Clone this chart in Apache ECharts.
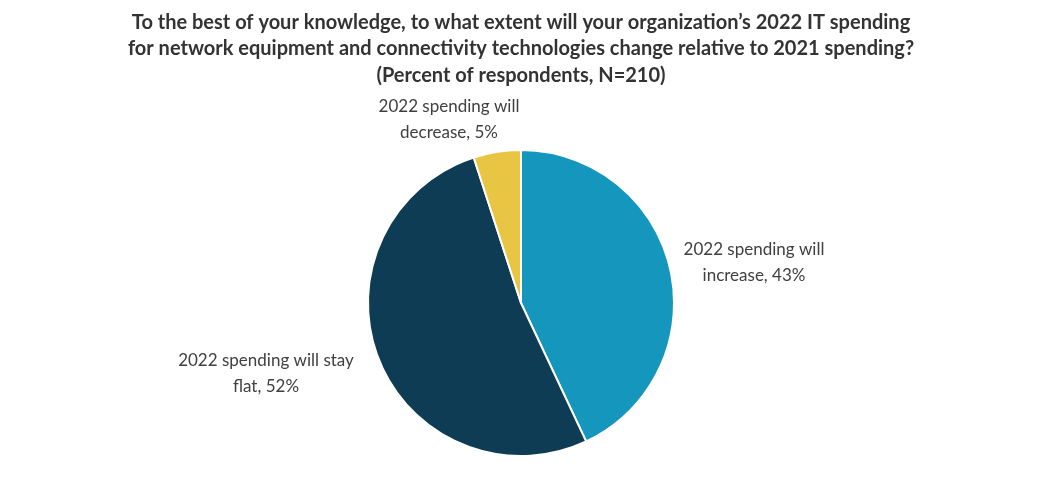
<!DOCTYPE html>
<html>
<head>
<meta charset="utf-8">
<script src="https://cdn.jsdelivr.net/npm/echarts@6/dist/echarts.min.js"></script>
<style>
  html, body { margin: 0; padding: 0; background: #fff; }
  #chart { width: 1042px; height: 504px; }
</style>
</head>
<body>
<div id="chart"></div>
<script>
    var titleText = 'To the best of your knowledge, to what extent will your organization\u2019s 2022 IT spending\nfor network equipment and connectivity technologies change relative to 2021 spending?\n(Percent of respondents, N=210)';
    var categories = ['2022 spending will\nincrease', '2022 spending will stay\nflat', '2022 spending will\ndecrease'];
    var values = [43, 52, 5];
    var colors = ['#1596bd', '#0d3c54', '#e8c542'];

    // where each label sits (centre of text block)
    var labelSpots = [[754, 263], [266, 374], [449, 120]];

    var chart = echarts.init(document.getElementById('chart'));
    var option = {
        title: {
            text: titleText,
            left: 'center',
            top: 4,
            textStyle: {
                fontFamily: 'Lato',
                fontSize: 20,
                fontWeight: 'bold',
                color: '#333333',
                lineHeight: 26.5
            }
        },
        color: colors,
        series: [
            {
                type: 'pie',
                center: [521, 303],
                radius: 153,
                startAngle: 90,
                clockwise: true,
                data: categories.map(function (c, i) {
                    return { name: c, value: values[i] };
                }),
                itemStyle: {
                    borderColor: '#ffffff',
                    borderWidth: 2
                },
                label: {
                    show: true,
                    position: 'outside',
                    formatter: function (p) { return p.name + ', ' + p.value + '%'; },
                    fontFamily: 'Lato',
                    fontSize: 17,
                    color: '#404040',
                    lineHeight: 26,
                    align: 'center'
                },
                labelLine: { show: false },
                labelLayout: function (params) {
                    var s = labelSpots[params.dataIndex];
                    return { x: s[0], y: s[1], align: 'center', verticalAlign: 'middle' };
                },
                emphasis: { disabled: true }
            }
        ]
    };
    chart.setOption(option);
</script>
</body>
</html>
